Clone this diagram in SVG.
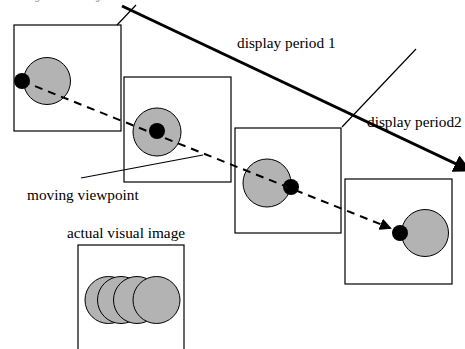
<svg xmlns="http://www.w3.org/2000/svg" width="465" height="349" viewBox="0 0 465 349">
<defs>
<style>
.box{fill:#fff;stroke:#000;stroke-width:1.2}
.disc{fill:#b3b3b3;stroke:#000;stroke-width:1}
.dot{fill:#000}
.thin{stroke:#000;stroke-width:1.2;fill:none}
.lbl{font-family:"Liberation Serif",serif;font-size:15.3px;fill:#000}
</style>
<marker id="bigArrow" markerWidth="6" markerHeight="6" refX="5" refY="3" orient="auto" markerUnits="strokeWidth">
<path d="M0,0 L6,3 L0,6 Z" fill="#000"/>
</marker>
<marker id="smallArrow" markerWidth="6" markerHeight="6" refX="5" refY="3" orient="auto" markerUnits="strokeWidth">
<path d="M0,0 L6,3 L0,6 Z" fill="#000"/>
</marker>
</defs>
<rect width="465" height="349" fill="#fff"/>
<text x="-6" y="-2" style="font-family:'Liberation Serif',serif;font-size:17px;fill:#999">ures by the subject to evaluate the     Section</text>

<g id="box1">
<rect class="box" x="14" y="25" width="107" height="106"/>
<circle class="disc" cx="47" cy="81" r="23.5"/>
<circle class="dot" cx="22" cy="81" r="8"/>
</g>
<g id="box2">
<rect class="box" x="124" y="77" width="107" height="105"/>
<circle class="disc" cx="157" cy="132" r="24"/>
<circle class="dot" cx="157" cy="131" r="8"/>
</g>
<g id="box3">
<rect class="box" x="235" y="128" width="106" height="105"/>
<circle class="disc" cx="267" cy="183" r="24"/>
<circle class="dot" cx="291" cy="187" r="8"/>
</g>
<g id="box4">
<rect class="box" x="345" y="179" width="107" height="105"/>
<circle class="disc" cx="425" cy="233" r="23.5"/>
<circle class="dot" cx="400" cy="233" r="8"/>
</g>
<g id="box5">
<rect class="box" x="78" y="245" width="106" height="110"/>
<circle class="disc" cx="108.5" cy="300" r="23.5"/>
<circle class="disc" cx="121" cy="300" r="23.5"/>
<circle class="disc" cx="137" cy="300" r="23.5"/>
<circle class="disc" cx="156.5" cy="300" r="23.5"/>
<text class="lbl" x="67" y="238">actual visual image</text>
</g>

<g id="connectors">
<line class="thin" x1="117" y1="25" x2="136" y2="5"/>
<line class="thin" x1="342" y1="127" x2="416" y2="49"/>
<line x1="122" y1="6" x2="469" y2="170" stroke="#000" stroke-width="3" marker-end="url(#bigArrow)"/>
<line x1="22" y1="81" x2="390" y2="228" stroke="#000" stroke-width="2" stroke-dasharray="8,6" marker-end="url(#smallArrow)"/>
<line class="thin" x1="81" y1="178" x2="203" y2="155"/>
</g>

<text class="lbl" x="237" y="48">display period 1</text>
<text class="lbl" x="367" y="127">display period2</text>
<text class="lbl" x="27" y="200">moving viewpoint</text>
</svg>
